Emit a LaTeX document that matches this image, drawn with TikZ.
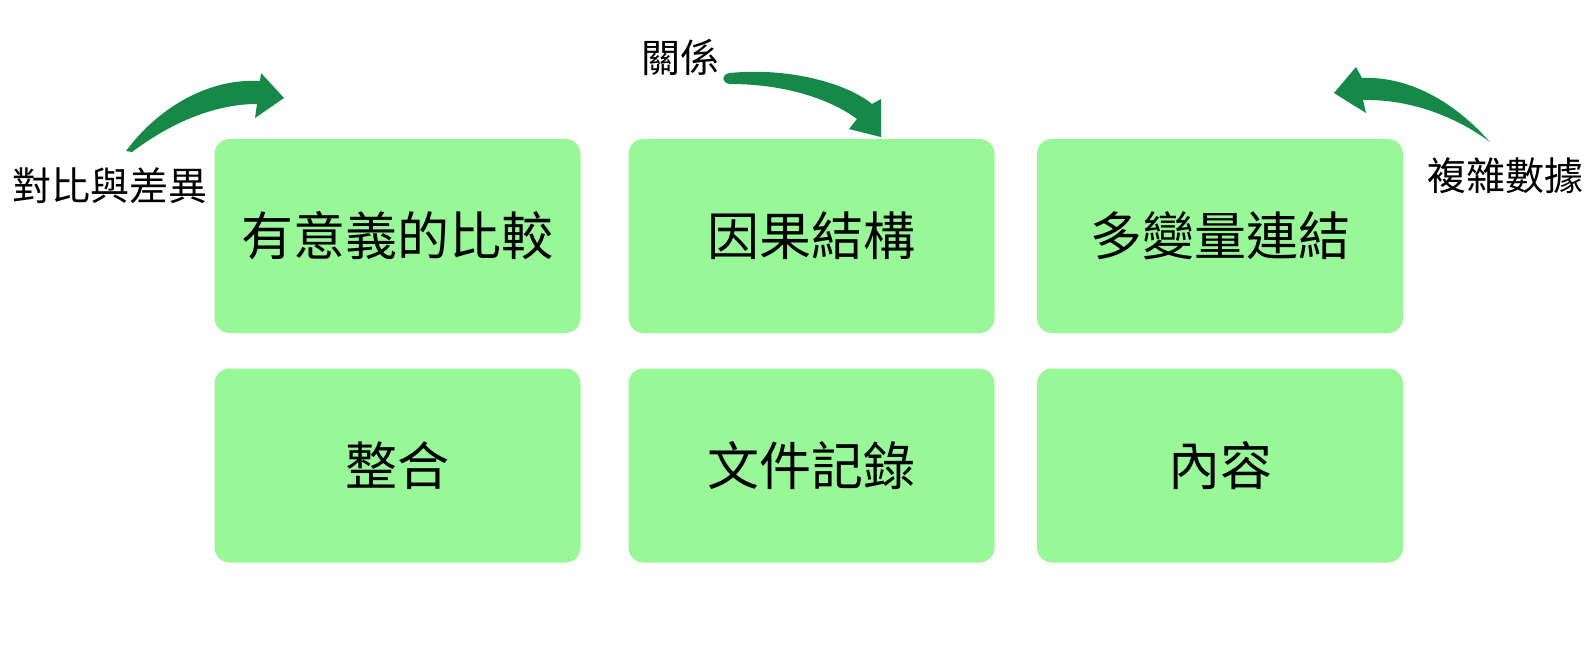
\documentclass[tikz,border=0pt]{standalone}
\usepackage{fontspec}
\newfontfamily\cjk{Noto Sans CJK TC}
\definecolor{boxgreen}{RGB}{152,248,152}
\definecolor{arrowgreen}{RGB}{22,136,72}
\begin{document}
\begin{tikzpicture}[x=1pt,y=-1pt,
  card/.style={fill=boxgreen, rounded corners=15pt, minimum width=366pt, minimum height=194pt, inner sep=0pt,
    font=\cjk\fontsize{52}{60}\selectfont, text=black},
  sidelabel/.style={inner sep=0pt, font=\cjk\fontsize{39}{45}\selectfont, text=black},
  bigarrow/.style={fill=arrowgreen, draw=none}]
\useasboundingbox (0,0) rectangle (1588,672);
\fill[white] (0,0) rectangle (1588,672);
% cards
\node[card] (c1) at (397.5,236) {有意義的比較};
\node[card] (c2) at (811.5,236) {因果結構};
\node[card] (c3) at (1220,236) {多變量連結};
\node[card] (c4) at (397.5,465.5) {整合};
\node[card] (c5) at (811.5,465.5) {文件記錄};
\node[card] (c6) at (1220,465.5) {內容};
% side labels
\node[sidelabel] (l1) at (110,186) {對比與差異};
\node[sidelabel] (l2) at (680,57) {關係};
\node[sidelabel] (l3) at (1505,176) {複雜數據};
% arrows (tapered shapes)
\fill[bigarrow] (126,151) .. controls (158,108) and (208,78) .. (260,81)
  -- (261,73) -- (284,98) -- (255,118) -- (257,104)
  .. controls (212,104) and (168,125) .. (132,152) -- cycle;
\fill[bigarrow] (730,73) .. controls (790,67) and (848,84) .. (872,104)
  -- (881,99) -- (881,137) -- (849,129) -- (857,119)
  .. controls (830,99) and (785,84) .. (730,84)
  .. controls (721,83) and (721,74) .. (730,73) -- cycle;
\fill[bigarrow] (1488,140) .. controls (1455,103) and (1410,76) .. (1362,78)
  -- (1356,67) -- (1334,93) -- (1366,113) -- (1363,100)
  .. controls (1412,99) and (1458,118) .. (1490,142) -- cycle;
\end{tikzpicture}
\end{document}
